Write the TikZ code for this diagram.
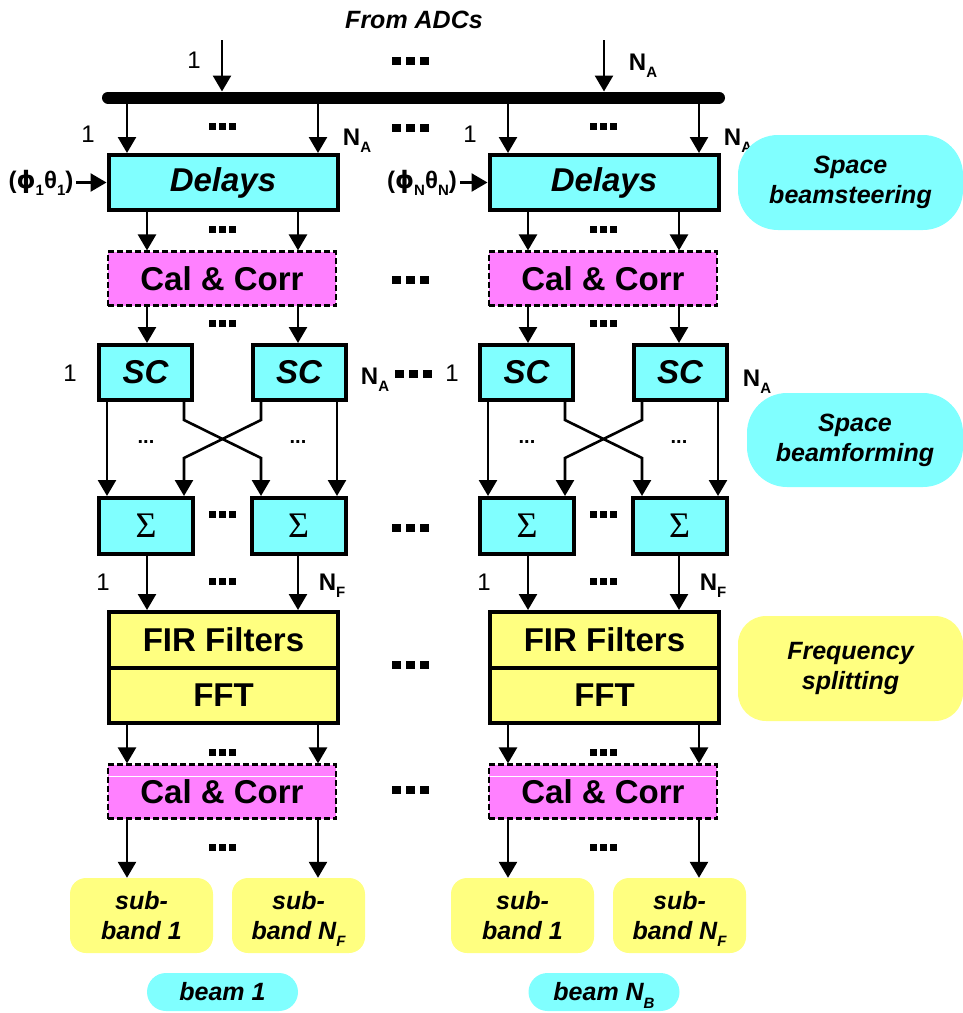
\documentclass[tikz,border=0pt]{standalone}
\usepackage{fontspec}
\setmainfont{Liberation Sans}
\newfontfamily\serifsig{Liberation Serif}
\newfontfamily\dvs{DejaVu Sans}
\usetikzlibrary{arrows.meta}
\definecolor{bcyan}{HTML}{80FFFF}
\definecolor{bmag}{HTML}{FF80FF}
\definecolor{byel}{HTML}{FFFF80}
\newcommand\fs[2]{\fontsize{#1}{#2}\selectfont}
\newcommand\lowsub[1]{\raisebox{-0.3em}[0pt][0pt]{\fs{15}{15}#1}}
\newcommand\bigdots{\rule{9pt}{8pt}\hspace{5pt}\rule{9pt}{8pt}\hspace{5pt}\rule{9pt}{8pt}}
\newcommand\smdots{\rule{7pt}{7pt}\hspace{3pt}\rule{7pt}{7pt}\hspace{3pt}\rule{7pt}{7pt}}
\begin{document}
\begin{tikzpicture}[x=1pt,y=-1pt,
  every node/.style={inner sep=0pt},
  arr/.style={line width=2.6pt,-{Triangle[length=16pt 0 0,width=18pt 0 0]}},
  box/.style={draw,line width=4pt,fill=bcyan,minimum height=55pt,font=\bfseries\itshape\fs{33}{36}},
  sigbox/.style={draw,line width=4pt,fill=bcyan,minimum height=56pt,minimum width=94pt,font=\serifsig\fs{36}{40}},
  ybox/.style={draw,line width=4pt,fill=byel,minimum width=229pt,font=\bfseries\fs{33}{36}},
  calbox/.style={draw,line width=2.2pt,dash pattern=on 6pt off 3pt,fill=bmag,minimum width=228pt,minimum height=54pt,font=\bfseries\fs{33}{36}},
  subbox/.style={fill=byel,rounded corners=16pt,minimum height=75pt,align=center,font=\bfseries\itshape\fs{25}{30}},
  tagbox/.style={rounded corners=40pt,align=center,font=\bfseries\itshape\fs{25}{30}},
  beambox/.style={fill=bcyan,rounded corners=19pt,minimum width=151pt,minimum height=38pt,font=\bfseries\itshape\fs{25}{30}},
  num/.style={font=\fs{24}{28}},
  lab/.style={font=\bfseries\fs{24}{28}},
  tiny/.style={font=\bfseries\fs{20}{24}}
]
\useasboundingbox (0,0) rectangle (963,1013);

% bus
\coordinate (busL) at (108,97.5);
\coordinate (busR) at (719,97.5);
\coordinate (busTop) at (0,91.5);
\coordinate (inA) at (222,40);
\coordinate (inB) at (604,40);
\draw[arr] (inA) -- (inA |- busTop);
\draw[arr] (inB) -- (inB |- busTop);

\node[font=\bfseries\itshape\fs{25}{30}] (adc) at (414,20) {From ADCs};
\node[num] (top1) at (194,60) {1};
\node[lab] (topN) at (643,62) {N\lowsub{A}};
\node (dt1) at (410,61) {\bigdots};
\node (dt2) at (410,128) {\bigdots};
\node (dt3) at (410,280) {\bigdots};
\node (dt4) at (413,374) {\bigdots};
\node (dt5) at (410,528) {\bigdots};
\node (dt6) at (410,665) {\bigdots};
\node (dt7) at (410,790) {\bigdots};

\foreach \c/\d in {L/0,R/381}{
\begin{scope}[xshift=\d pt]
  \coordinate (a1\c) at (127,0);
  \coordinate (a2\c) at (318,0);
  \coordinate (b1\c) at (147,0);
  \coordinate (b2\c) at (298,0);
  \coordinate (c1\c) at (107,420);
  \coordinate (c2\c) at (184,420);
  \coordinate (c3\c) at (261,420);
  \coordinate (c4\c) at (337,420);
  \coordinate (d2\c) at (184,458);
  \coordinate (d3\c) at (261,458);

  \node[box,minimum width=229pt] (del\c) at (223,182.5) {Delays};
  \node[calbox] (cal\c) at (222,278.5) {Cal \& Corr};
  \node[box,minimum width=93pt] (scA\c) at (145.5,372.5) {SC};
  \node[box,minimum width=93pt] (scB\c) at (299,372.5) {SC};
  \node[sigbox] (sgA\c) at (146,526) {Σ};
  \node[sigbox] (sgB\c) at (298.5,526) {Σ};
  \node[ybox,minimum height=56pt] (fir\c) at (223.5,640) {FIR Filters};
  \node[ybox,minimum height=55pt] (fft\c) at (223.5,695.5) {FFT};
  \node[calbox] (calb\c) at (222,791.5) {Cal \& Corr};
  \draw[white,line width=0.6pt] ([shift={(2,12.5)}]calb\c.north west) -- ([shift={(-2,12.5)}]calb\c.north east);
  \node[subbox,minimum width=143pt] (sbA\c) at (141.5,915.5) {sub-\\band 1};
  \node[subbox,minimum width=133pt] (sbB\c) at (298.5,915.5) {sub-\\band N\lowsub{\itshape F}};

  \draw[arr] (a1\c |- busL) -- (del\c.north -| a1\c);
  \draw[arr] (a2\c |- busL) -- (del\c.north -| a2\c);
  \draw[arr] (del\c.south -| b1\c) -- (cal\c.north -| b1\c);
  \draw[arr] (del\c.south -| b2\c) -- (cal\c.north -| b2\c);
  \draw[arr] (cal\c.south -| b1\c) -- (scA\c.north -| b1\c);
  \draw[arr] (cal\c.south -| b2\c) -- (scB\c.north -| b2\c);
  \draw[arr] (scA\c.south -| c1\c) -- (sgA\c.north -| c1\c);
  \draw[arr] (scA\c.south -| c2\c) -- (c2\c) -- (d3\c) -- (sgB\c.north -| d3\c);
  \draw[arr] (scB\c.south -| c3\c) -- (c3\c) -- (d2\c) -- (sgA\c.north -| d2\c);
  \draw[arr] (scB\c.south -| c4\c) -- (sgB\c.north -| c4\c);
  \draw[arr] (sgA\c.south -| b1\c) -- (fir\c.north -| b1\c);
  \draw[arr] (sgB\c.south -| b2\c) -- (fir\c.north -| b2\c);
  \draw[arr] (fft\c.south -| a1\c) -- (calb\c.north -| a1\c);
  \draw[arr] (fft\c.south -| a2\c) -- (calb\c.north -| a2\c);
  \draw[arr] (calb\c.south -| a1\c) -- (sbA\c.north -| a1\c);
  \draw[arr] (calb\c.south -| a2\c) -- (sbB\c.north -| a2\c);

  \node (i1\c) at (222,126) {\smdots};
  \node (i2\c) at (222,229) {\smdots};
  \node (i3\c) at (222,323) {\smdots};
  \node (i4\c) at (222,514) {\smdots};
  \node (i5\c) at (222,581) {\smdots};
  \node (i6\c) at (222,752) {\smdots};
  \node (i7\c) at (222,847) {\smdots};
  \node[tiny] (t1\c) at (146,442) {...};
  \node[tiny] (t2\c) at (298,442) {...};
\end{scope}
}
\draw[line width=12pt,line cap=round] (busL) -- (busR);

% column labels
\node[num] (n1L) at (88,134) {1};
\node[lab] (nAL) at (357,137) {N\lowsub{A}};
\node[num] (n1R) at (470,134) {1};
\node[lab] (nAR) at (738,137) {N\lowsub{A}};
\node[num] (s1L) at (70,373) {1};
\node[lab] (sAL) at (375,376) {N\lowsub{A}};
\node[num] (s1R) at (452,373) {1};
\node[lab] (sAR) at (757,378) {N\lowsub{A}};
\node[num] (f1L) at (103,582) {1};
\node[lab] (fFL) at (332,582) {N\lowsub{F}};
\node[num] (f1R) at (484,582) {1};
\node[lab] (fFR) at (713,582) {N\lowsub{F}};

\node[lab,outer sep=3pt] (phL) at (41,182) {({\dvs\bfseries ϕ}\lowsub{1}θ\lowsub{1})};
\node[lab,outer sep=3pt] (phR) at (422,182) {({\dvs\bfseries ϕ}\lowsub{N}θ\lowsub{N})};
\draw[arr] (phL.east |- delL.west) -- (delL.west);
\draw[arr] (phR.east |- delR.west) -- (delR.west);

\node[beambox] (beamL) at (222.5,992) {beam 1};
\node[beambox] (beamR) at (604,992) {beam N\lowsub{B}};

\node[tagbox,fill=bcyan,minimum width=225pt,minimum height=95pt] (steer) at (850.5,182.5) {Space\\beamsteering};
\node[tagbox,fill=bcyan,minimum width=216pt,minimum height=94pt] (form) at (855,440) {Space\\beamforming};
\node[tagbox,fill=byel,rounded corners=28pt,minimum width=225pt,minimum height=105pt] (freq) at (850.5,668.5) {Frequency\\splitting};
\end{tikzpicture}
\end{document}
